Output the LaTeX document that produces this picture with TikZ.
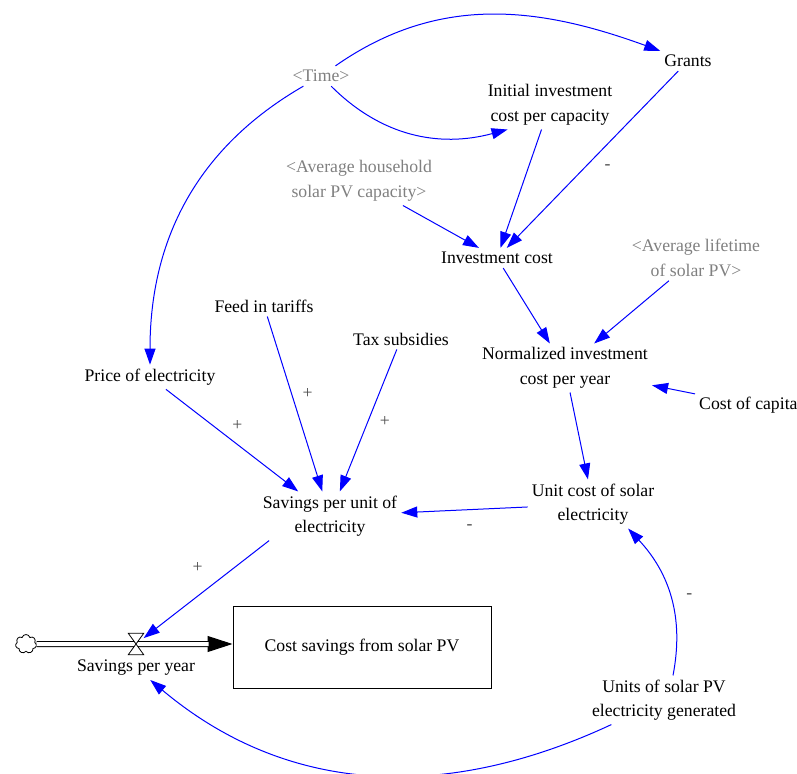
\documentclass[tikz,border=0pt]{standalone}
\usepackage{fontspec}
\setmainfont{Liberation Serif}
\usetikzlibrary{arrows.meta,shapes.symbols}

\begin{document}
\begin{tikzpicture}[x=1pt,y=1pt,
    every node/.style={font=\fontsize{17.7}{24.5}\selectfont, align=center, inner sep=4pt},
    shadow/.style={text=gray},
    link/.style={draw=blue, line width=1pt, -{Triangle[length=16pt,width=11pt]}},
    sign/.style={text=black!70, inner sep=0pt},
    pipe/.style={double, double distance=4pt, line width=1pt}]
    \useasboundingbox (0,0) rectangle (797,-773);

    % auxiliary and shadow variables
    \node[shadow] (time) at (321,-76) {\textless Time\textgreater};
    \node (grants) at (688,-61) {Grants};
    \node (initial) at (550,-105) {Initial investment\\cost per capacity};
    \node[shadow] (household) at (359,-181) {\textless Average household\\solar PV capacity\textgreater};
    \node (invcost) at (497,-258) {Investment cost};
    \node[shadow] (lifetime) at (696,-258) {\textless Average lifetime\\of solar PV\textgreater};
    \node (feedin) at (264,-306) {Feed in tariffs};
    \node (tax) at (401,-339) {Tax subsidies};
    \node (normalized) at (565,-368) {Normalized investment\\cost per year};
    \node (price) at (150,-377) {Price of electricity};
    \node[anchor=west] (capital) at (695,-405) {Cost of capital};
    \node (unitcost) at (593,-504) {Unit cost of solar\\electricity};
    \node (saveunit) at (330,-516) {Savings per unit of\\electricity};
    \node (units) at (664,-700) {Units of solar PV\\electricity generated};

    % stock and flow
    \node[draw, line width=1pt, minimum width=258pt, minimum height=82pt] (stock) at (362,-647) {Cost savings from solar PV};
    \node[draw, cloud, cloud puffs=7, aspect=1.2, minimum width=21pt, minimum height=19pt, inner sep=0pt, line width=0.8pt] (source) at (26,-644) {};
    \node[minimum width=15pt, minimum height=21pt, inner sep=0pt] (valve) at (136,-644) {};
    \node (rate) at (136,-668) {Savings per year};

    % causal links
    \draw[link] (time) to[out=35,in=160] (grants);
    \draw[link] (time) to[out=-45,in=-165] (initial.-150);
    \draw[link] (time) to[out=-150,in=90] (price);
    \draw[link] (grants) -- node[sign, pos=.54, xshift=22pt] {-} (invcost);
    \draw[link] (initial) -- (invcost);
    \draw[link] (household) -- (invcost);
    \draw[link] (invcost) -- (normalized);
    \draw[link] (lifetime) -- (normalized);
    \draw[link] (capital) -- (normalized);
    \draw[link] (normalized) -- (unitcost);
    \draw[link] (unitcost) -- node[sign, pos=.46, yshift=-17pt] {-} (saveunit);
    \draw[link] ([xshift=9pt]units.north) to[out=79,in=-47] node[sign, pos=.5, xshift=19pt] {-} (unitcost.-35);
    \draw[link] (feedin) -- node[sign, pos=.44, xshift=16pt] {+} (saveunit);
    \draw[link] (tax) -- node[sign, pos=.51, xshift=17pt] {+} (saveunit);
    \draw[link] (price) -- node[sign, pos=.54, yshift=19pt] {+} (saveunit);
    \draw[link] (saveunit.-158) -- node[sign, pos=.57, yshift=29pt] {+} (valve);
    \draw[link] (units) to[out=-155,in=-40] (rate);

    % pipe and valve
    \draw[line width=1pt, -{Triangle[length=25pt,width=16pt]}] (source) -- (source -| stock.west);
    \draw[pipe, shorten >=24pt] (source) -- (source -| stock.west);
    \draw[fill=white, line width=0.8pt] (valve.north west) -- (valve.north east) -- (valve.south west) -- (valve.south east) -- cycle;
\end{tikzpicture}
\end{document}
